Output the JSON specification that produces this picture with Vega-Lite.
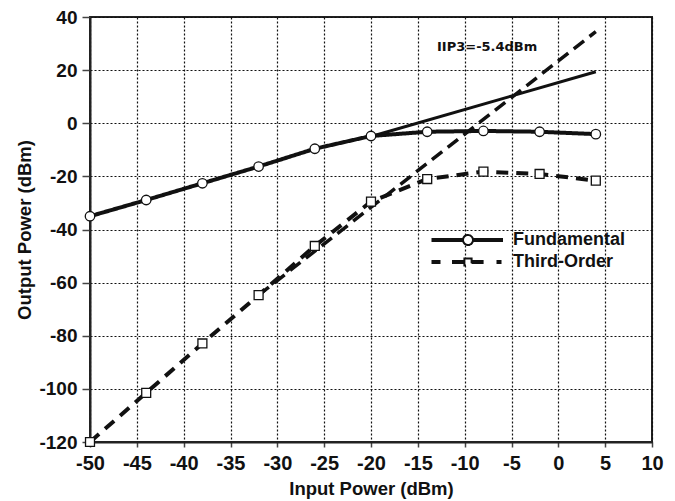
{
  "$schema": "https://vega.github.io/schema/vega-lite/v6.json",
  "width": 562,
  "height": 425,
  "autosize": "none",
  "padding": {"left": 90, "top": 17, "right": 23, "bottom": 59},
  "background": "white",
  "config": {
    "view": {"stroke": "#222", "strokeWidth": 2},
    "font": "Liberation Sans",
    "axis": {
      "labelFont": "Liberation Sans",
      "labelFontWeight": "bold",
      "labelFontSize": 19,
      "labelColor": "#111",
      "titleFont": "Liberation Sans",
      "titleFontWeight": "bold",
      "titleFontSize": 18.5,
      "titleColor": "#111",
      "domainColor": "#222",
      "domainWidth": 2,
      "tickColor": "#444",
      "tickWidth": 1.5,
      "gridColor": "#111",
      "gridDash": [2, 2],
      "gridWidth": 1.2
    },
    "legend": {
      "labelFont": "Liberation Sans",
      "labelFontWeight": "bold",
      "labelFontSize": 18,
      "labelColor": "#111",
      "padding": 0
    }
  },
  "datasets": {
    "pts": [
      {"series": "Fundamental", "x": -50, "y": -35},
      {"series": "Fundamental", "x": -44, "y": -28.9},
      {"series": "Fundamental", "x": -38, "y": -22.6},
      {"series": "Fundamental", "x": -32, "y": -16.3},
      {"series": "Fundamental", "x": -26, "y": -9.6},
      {"series": "Fundamental", "x": -20, "y": -4.8},
      {"series": "Fundamental", "x": -14, "y": -3.2},
      {"series": "Fundamental", "x": -8, "y": -2.9},
      {"series": "Fundamental", "x": -2, "y": -3.2},
      {"series": "Fundamental", "x": 4, "y": -4.1},
      {"series": "Third-Order", "x": -50, "y": -120},
      {"series": "Third-Order", "x": -44, "y": -101.5},
      {"series": "Third-Order", "x": -38, "y": -82.9},
      {"series": "Third-Order", "x": -32, "y": -64.7},
      {"series": "Third-Order", "x": -26, "y": -46.2},
      {"series": "Third-Order", "x": -20, "y": -29.5},
      {"series": "Third-Order", "x": -14, "y": -21},
      {"series": "Third-Order", "x": -8, "y": -18.2},
      {"series": "Third-Order", "x": -2, "y": -19.1},
      {"series": "Third-Order", "x": 4, "y": -21.6}
    ],
    "ext": [
      {"series": "Fundamental", "x": -20, "y": -5},
      {"series": "Fundamental", "x": 4, "y": 19.4},
      {"series": "Third-Order", "x": -32, "y": -64.7},
      {"series": "Third-Order", "x": 4, "y": 34.5}
    ],
    "note": [
      {"x": -7.6, "y": 28.7, "label": "IIP3=-5.4dBm"}
    ]
  },
  "encoding": {
    "x": {"field": "x", "type": "quantitative"},
    "y": {"field": "y", "type": "quantitative"}
  },
  "layer": [
    {
      "data": {"name": "ext"},
      "transform": [{"filter": "datum.series === 'Fundamental'"}],
      "mark": {"type": "line", "color": "#111", "strokeWidth": 3},
      "encoding": {
        "x": {
          "field": "x", "type": "quantitative",
          "scale": {"domain": [-50, 10], "nice": false, "zero": false},
          "axis": {
            "title": "Input Power (dBm)",
            "values": [-50, -47.5, -45, -42.5, -40, -37.5, -35, -32.5, -30, -27.5, -25, -22.5, -20, -17.5, -15, -12.5, -10, -7.5, -5, -2.5, 0, 2.5, 5, 7.5, 10],
            "labelExpr": "datum.value % 5 === 0 ? '' + datum.value : ''",
            "gridOpacity": {"condition": {"test": "datum.value % 5 !== 0", "value": 0}, "value": 1},
            "tickSize": 5,
            "labelPadding": 6,
            "labelFontSize": 20,
            "titlePadding": 6,
            "labelFlush": false,
            "labelOverlap": false
          }
        },
        "y": {
          "field": "y", "type": "quantitative",
          "scale": {"domain": [-120, 40], "nice": false, "zero": false},
          "axis": {
            "title": "Output Power (dBm)",
            "values": [-120, -110, -100, -90, -80, -70, -60, -50, -40, -30, -20, -10, 0, 10, 20, 30, 40],
            "labelExpr": "datum.value % 20 === 0 ? '' + datum.value : ''",
            "gridOpacity": {"condition": {"test": "datum.value % 20 !== 0", "value": 0}, "value": 1},
            "tickSize": {"condition": {"test": "datum.value % 20 !== 0", "value": 4}, "value": 8},
            "labelPadding": 5,
            "titlePadding": 4,
            "labelFlush": false,
            "labelOverlap": false
          }
        }
      }
    },
    {
      "data": {"name": "ext"},
      "transform": [{"filter": "datum.series === 'Third-Order'"}],
      "mark": {"type": "line", "color": "#111", "strokeWidth": 3.5, "strokeDash": [13, 7]},
      "encoding": {}
    },
    {
      "data": {"name": "pts"},
      "mark": {"type": "line", "color": "#111", "strokeWidth": 4},
      "encoding": {
        "strokeDash": {
          "field": "series", "type": "nominal",
          "scale": {"range": [[1, 0], [12, 8]]},
          "legend": {
            "title": null,
            "orient": "none",
            "legendX": 369,
            "legendY": 214,
            "symbolSize": 100,
            "symbolStrokeWidth": 2,
            "symbolStrokeColor": "#111",
            "symbolFillColor": "white",
            "symbolOffset": 0,
            "labelOffset": 36,
            "rowPadding": 4,
            "encode": {
              "symbols": {
                "update": {
                  "shape": {"signal": "datum.value === 'Fundamental' ? 'M-7.3,-0.2H-1M-7.3,0.2H-1M1,-0.2H7M1,0.2H7M1,0A1,1 0 1,1 -1,0A1,1 0 1,1 1,0Z' : 'M-7.3,-0.2H-5.5M-7.3,0.2H-5.5M-3.2,-0.2H-0.72M-3.2,0.2H-0.72M0.72,-0.2H3.7M0.72,0.2H3.7M5.7,-0.2H6.7M5.7,0.2H6.7M-0.72,-0.72H0.72V0.72H-0.72Z'"},
                  "strokeDash": {"value": [1, 0]},
                  "fill": {"value": "white"},
                  "stroke": {"value": "#111"},
                  "strokeWidth": {"value": 2},
                  "opacity": {"value": 1}
                }
              }
            }
          }
        }
      }
    },
    {
      "data": {"name": "pts"},
      "transform": [{"filter": "datum.series === 'Fundamental'"}],
      "mark": {"type": "point", "shape": "circle", "size": 90, "filled": false, "fill": "white", "fillOpacity": 1, "stroke": "#111", "strokeWidth": 1.3, "opacity": 1},
      "encoding": {}
    },
    {
      "data": {"name": "pts"},
      "transform": [{"filter": "datum.series === 'Third-Order'"}],
      "mark": {"type": "point", "shape": "square", "size": 80, "filled": false, "fill": "white", "fillOpacity": 1, "stroke": "#111", "strokeWidth": 1.3, "opacity": 1},
      "encoding": {}
    },
    {
      "data": {"name": "note"},
      "mark": {"type": "text", "font": "DejaVu Sans", "fontWeight": "bold", "fontSize": 13, "color": "#111", "align": "center", "baseline": "middle"},
      "encoding": {"text": {"field": "label", "type": "nominal"}}
    }
  ]
}
